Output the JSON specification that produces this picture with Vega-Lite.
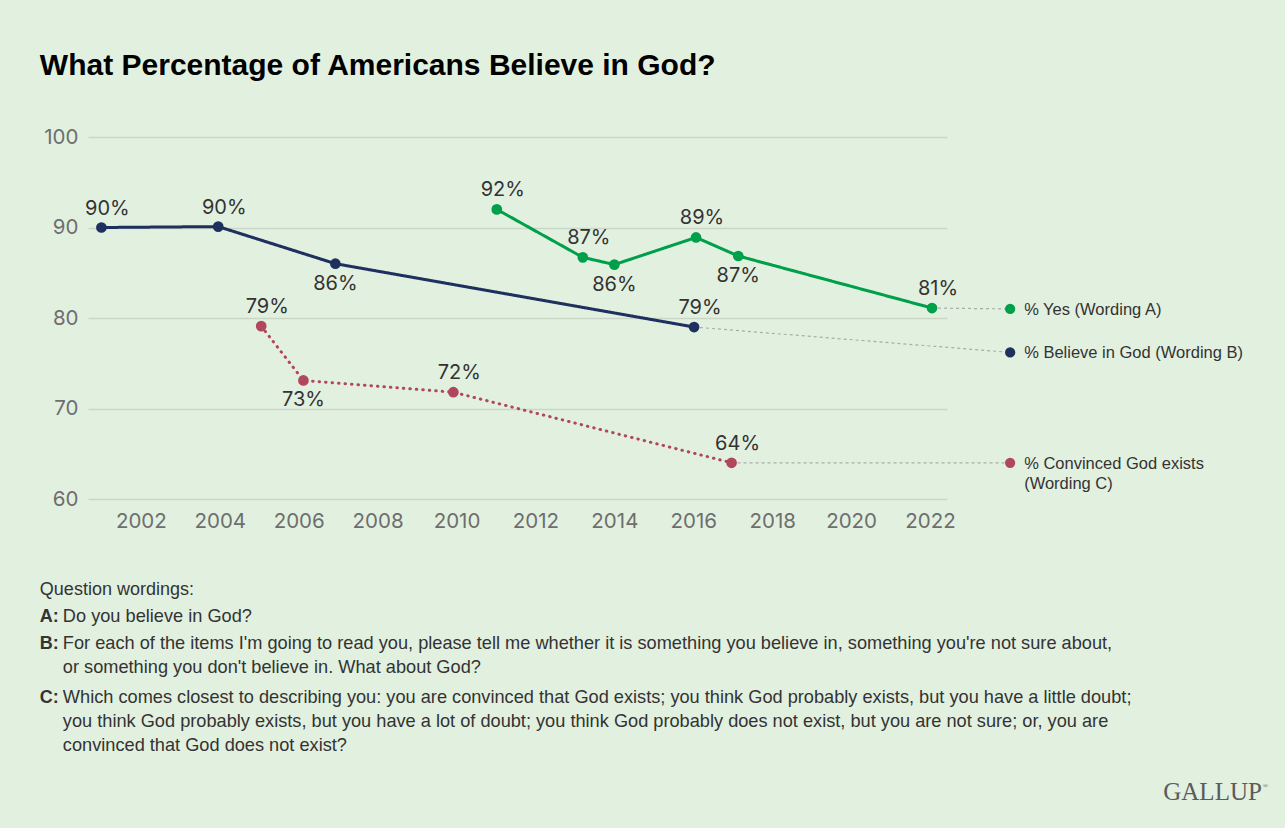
{
  "$schema": "https://vega.github.io/schema/vega-lite/v6.json",
  "width": 859,
  "height": 362,
  "autosize": "none",
  "padding": {"left": 88, "top": 137, "right": 338, "bottom": 329},
  "background": "#E2F0E0",
  "config": {"view": {"stroke": null}, "font": "Liberation Sans"},
  "title": {
    "text": "What Percentage of Americans Believe in God?",
    "anchor": "start",
    "frame": "bounds",
    "font": "Liberation Sans",
    "fontSize": 30,
    "fontWeight": "bold",
    "color": "#000000",
    "offset": 46
  },
  "datasets": {
    "series": [
      {"series": "A", "year": 2011.02, "value": 92, "label": "92%", "side": "above"},
      {"series": "A", "year": 2013.2, "value": 86.7, "label": "87%", "side": "above"},
      {"series": "A", "year": 2014.0, "value": 85.9, "label": "86%", "side": "below"},
      {"series": "A", "year": 2016.07, "value": 88.9, "label": "89%", "side": "above"},
      {"series": "A", "year": 2017.14, "value": 86.85, "label": "87%", "side": "below"},
      {"series": "A", "year": 2022.05, "value": 81.1, "label": "81%", "side": "above"},
      {"series": "B", "year": 2001.0, "value": 90, "label": "90%", "side": "above"},
      {"series": "B", "year": 2003.96, "value": 90.1, "label": "90%", "side": "above"},
      {"series": "B", "year": 2006.93, "value": 86, "label": "86%", "side": "below"},
      {"series": "B", "year": 2016.02, "value": 79, "label": "79%", "side": "above"},
      {"series": "C", "year": 2005.05, "value": 79.1, "label": "79%", "side": "above"},
      {"series": "C", "year": 2006.12, "value": 73.1, "label": "73%", "side": "below"},
      {"series": "C", "year": 2009.92, "value": 71.8, "label": "72%", "side": "above"},
      {"series": "C", "year": 2016.97, "value": 64, "label": "64%", "side": "above"}
    ],
    "legend": [
      {"series": "A", "year": 2024.03, "value": 81.0, "label": ["% Yes (Wording A)"]},
      {"series": "B", "year": 2024.03, "value": 76.2, "label": ["% Believe in God (Wording B)"]},
      {"series": "C", "year": 2024.03, "value": 64.0, "label": ["% Convinced God exists", "(Wording C)"]}
    ],
    "conn": [
      {"series": "A", "year": 2022.05, "value": 81.1},
      {"series": "A", "year": 2024.03, "value": 81.0},
      {"series": "B", "year": 2016.02, "value": 79},
      {"series": "B", "year": 2024.03, "value": 76.2},
      {"series": "C", "year": 2016.97, "value": 64},
      {"series": "C", "year": 2024.03, "value": 64.0}
    ],
    "notes": [
      {"slot": 1, "letter": "A:", "lines": ["Do you believe in God?"]},
      {"slot": 2, "letter": "B:", "lines": ["For each of the items I'm going to read you, please tell me whether it is something you believe in, something you're not sure about,", "or something you don't believe in. What about God?"]},
      {"slot": 4, "letter": "C:", "lines": ["Which comes closest to describing you: you are convinced that God exists; you think God probably exists, but you have a little doubt;", "you think God probably exists, but you have a lot of doubt; you think God probably does not exist, but you are not sure; or, you are", "convinced that God does not exist?"]}
    ]
  },
  "layer": [
    {
      "layer": [
        {
          "data": {"name": "conn"},
          "mark": {"type": "line", "stroke": "#A9ADA8", "strokeWidth": 1.2, "strokeDash": [3, 3]},
          "encoding": {
            "x": {"field": "year", "type": "quantitative", "scale": {"domain": [2000.66, 2022.43], "nice": false, "zero": false},
              "axis": {"values": [2002, 2004, 2006, 2008, 2010, 2012, 2014, 2016, 2018, 2020, 2022], "format": "d", "grid": false, "domain": false, "ticks": false, "labelFont": "Inter", "labelFontSize": 20.5, "labelColor": "#6E6E6E", "labelPadding": 12, "title": null}},
            "y": {"field": "value", "type": "quantitative", "scale": {"domain": [60, 100], "nice": false, "zero": false},
              "axis": {"values": [60, 70, 80, 90, 100], "grid": true, "gridColor": "#CAD6C6", "gridWidth": 1.5, "domain": false, "ticks": false, "labelFont": "Inter", "labelFontSize": 20.5, "labelColor": "#6E6E6E", "labelPadding": 10, "title": null}},
            "detail": {"field": "series"}
          }
        },
        {
          "data": {"name": "series"},
          "mark": {"type": "line", "strokeWidth": 3, "strokeCap": "round"},
          "encoding": {
            "x": {"field": "year", "type": "quantitative"},
            "y": {"field": "value", "type": "quantitative"},
            "color": {"field": "series", "type": "nominal", "scale": {"domain": ["A", "B", "C"], "range": ["#00A04B", "#1D305E", "#B0475C"]}, "legend": null},
            "strokeDash": {"field": "series", "type": "nominal", "scale": {"domain": ["A", "B", "C"], "range": [[1, 0], [1, 0], [0.5, 6]]}, "legend": null}
          }
        },
        {
          "data": {"name": "series"},
          "mark": {"type": "point", "filled": true, "size": 115, "opacity": 1},
          "encoding": {
            "x": {"field": "year", "type": "quantitative"},
            "y": {"field": "value", "type": "quantitative"},
            "color": {"field": "series", "type": "nominal", "legend": null}
          }
        },
        {
          "data": {"name": "legend"},
          "mark": {"type": "point", "filled": true, "size": 105, "opacity": 1},
          "encoding": {
            "x": {"field": "year", "type": "quantitative"},
            "y": {"field": "value", "type": "quantitative"},
            "color": {"field": "series", "type": "nominal", "legend": null}
          }
        },
        {
          "data": {"name": "legend"},
          "mark": {"type": "text", "align": "left", "baseline": "alphabetic", "dx": 14, "dy": 6, "font": "Liberation Sans", "fontSize": 16.5, "lineHeight": 20, "color": "#333333"},
          "encoding": {
            "x": {"field": "year", "type": "quantitative"},
            "y": {"field": "value", "type": "quantitative"},
            "text": {"field": "label"}
          }
        },
        {
          "data": {"name": "series"},
          "transform": [{"filter": "datum.side == 'above'"}],
          "mark": {"type": "text", "align": "center", "baseline": "alphabetic", "dx": 6, "dy": -13, "font": "Inter", "fontSize": 20, "color": "#333333"},
          "encoding": {
            "x": {"field": "year", "type": "quantitative"},
            "y": {"field": "value", "type": "quantitative"},
            "text": {"field": "label"}
          }
        },
        {
          "data": {"name": "series"},
          "transform": [{"filter": "datum.side == 'below'"}],
          "mark": {"type": "text", "align": "center", "baseline": "alphabetic", "dx": 0, "dy": 26, "font": "Inter", "fontSize": 20, "color": "#333333"},
          "encoding": {
            "x": {"field": "year", "type": "quantitative"},
            "y": {"field": "value", "type": "quantitative"},
            "text": {"field": "label"}
          }
        }
      ]
    },
    {
      "layer": [
        {
          "data": {"values": [{"text": "Question wordings:"}]},
          "mark": {"type": "text", "align": "left", "baseline": "alphabetic", "font": "Liberation Sans", "fontSize": 18, "color": "#333333"},
          "encoding": {
            "x": {"datum": 1999.44, "type": "quantitative"},
            "y": {"datum": 0, "type": "quantitative", "scale": {"domain": [-16.95, -3.545], "reverse": true, "nice": false, "zero": false}, "axis": null},
            "text": {"field": "text"}
          }
        },
        {
          "data": {"name": "notes"},
          "mark": {"type": "text", "align": "left", "baseline": "alphabetic", "font": "Liberation Sans", "fontSize": 18, "fontWeight": "bold", "color": "#333333"},
          "encoding": {
            "x": {"datum": 1999.44, "type": "quantitative"},
            "y": {"field": "slot", "type": "quantitative", "scale": {"domain": [-16.95, -3.545], "reverse": true, "nice": false, "zero": false}, "axis": null},
            "text": {"field": "letter"}
          }
        },
        {
          "data": {"name": "notes"},
          "mark": {"type": "text", "align": "left", "baseline": "alphabetic", "dx": 23, "font": "Liberation Sans", "fontSize": 18.2, "lineHeight": 24, "color": "#333333"},
          "encoding": {
            "x": {"datum": 1999.44, "type": "quantitative"},
            "y": {"field": "slot", "type": "quantitative", "scale": {"domain": [-16.95, -3.545], "reverse": true, "nice": false, "zero": false}, "axis": null},
            "text": {"field": "lines"}
          }
        },
        {
          "data": {"values": [{"text": "GALLUP"}]},
          "mark": {"type": "text", "align": "right", "baseline": "alphabetic", "font": "Liberation Serif", "fontSize": 25, "color": "#5B5B5B"},
          "encoding": {
            "x": {"datum": 2030.41, "type": "quantitative"},
            "y": {"datum": 7.6, "type": "quantitative", "scale": {"domain": [-16.95, -3.545], "reverse": true, "nice": false, "zero": false}, "axis": null},
            "text": {"field": "text"}
          }
        },
        {
          "data": {"values": [{"text": "®"}]},
          "mark": {"type": "text", "align": "left", "baseline": "alphabetic", "dx": 1, "dy": -12, "font": "Liberation Serif", "fontSize": 7, "color": "#5B5B5B"},
          "encoding": {
            "x": {"datum": 2030.41, "type": "quantitative"},
            "y": {"datum": 7.6, "type": "quantitative", "scale": {"domain": [-16.95, -3.545], "reverse": true, "nice": false, "zero": false}, "axis": null},
            "text": {"field": "text"}
          }
        }
      ]
    }
  ],
  "resolve": {"scale": {"y": "independent"}}
}
